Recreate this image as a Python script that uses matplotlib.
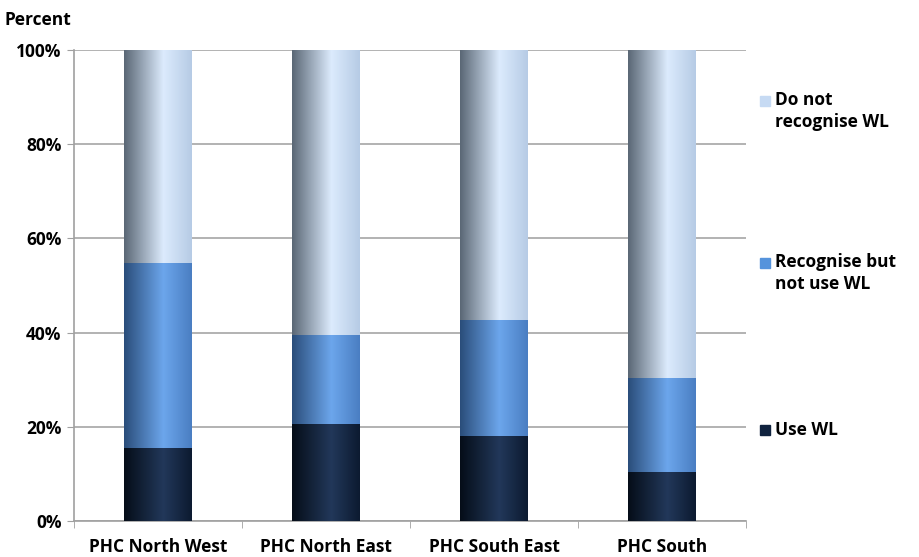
import numpy as np
import matplotlib
matplotlib.use("Agg")
import matplotlib.pyplot as plt
from matplotlib.colors import LinearSegmentedColormap

categories = ["PHC North West", "PHC North East", "PHC South East", "PHC South"]
use_wl = [15.5, 20.5, 18.0, 10.4]
recognise_not_use = [39.3, 19.0, 24.7, 20.0]
do_not_recognise = [45.2, 60.5, 57.3, 69.6]
series_names = ["Use WL", "Recognise but\nnot use WL", "Do not\nrecognise WL"]
legend_colors = ["#10233f", "#5593dc", "#c6daf3"]

# gradient stops: left edge, middle highlight, right edge
grad_colors = [
    ["#050d18", "#22385a", "#0c1a30"],
    ["#2a4d7a", "#6ca6ec", "#4a7ec2"],
    ["#5a6775", "#dcebfd", "#b6cbe5"],
]

plt.rcParams["font.family"] = ["Open Sans", "DejaVu Sans"]
plt.rcParams["font.weight"] = "bold"
fs = 12.5

fig = plt.figure(figsize=(9.19, 5.57), dpi=100)
ax = fig.add_axes([74 / 919, 1 - 521 / 557, (746 - 74) / 919, (521 - 50) / 557])

x = np.arange(len(categories))
width = 0.4
bottoms = np.zeros(len(categories))
grad = np.linspace(0, 1, 256).reshape(1, -1)
for vals, stops in zip([use_wl, recognise_not_use, do_not_recognise], grad_colors):
    cmap = LinearSegmentedColormap.from_list("g", [(0, stops[0]), (0.58, stops[1]), (1, stops[2])])
    bars = ax.bar(x, vals, width, bottom=bottoms, color="none", edgecolor="none", zorder=3)
    for b in bars:
        x0, y0 = b.get_x(), b.get_y()
        ax.imshow(grad, cmap=cmap, aspect="auto", zorder=3,
                  extent=[x0, x0 + b.get_width(), y0, y0 + b.get_height()])
    bottoms += np.array(vals)

ax.set_xlim(-0.5, len(categories) - 0.5)
ax.set_ylim(0, 100)
ax.set_yticks(np.arange(0, 101, 20))
ax.set_yticklabels([f"{v}%" for v in range(0, 101, 20)], fontsize=fs, fontweight="bold")
ax.set_xticks(x)
ax.set_xticklabels(categories, fontsize=fs, fontweight="bold")
ax.set_xticks(np.arange(-0.5, len(categories)), minor=True)
ax.tick_params(axis="x", which="major", length=0, pad=12)
ax.tick_params(axis="x", which="minor", length=5, color="#a0a0a0", direction="out")
ax.tick_params(axis="y", length=5, color="#a0a0a0", direction="out", pad=4)
ax.yaxis.grid(True, color="#a6a6a6", linewidth=1.2, zorder=0)
for s in ["top", "right"]:
    ax.spines[s].set_visible(False)
for s in ["left", "bottom"]:
    ax.spines[s].set_color("#a0a0a0")
    ax.spines[s].set_linewidth(1.2)

fig.text(5 / 919, 1 - 20 / 557, "Percent", fontsize=fs, fontweight="bold", va="center")

legend_y = [430, 273, 111]
for name, col, yy in zip(series_names, legend_colors, legend_y):
    nlines = name.count("\n") + 1
    sq_y = yy - (nlines - 1) * 10
    fig.patches.append(plt.Rectangle((760 / 919, 1 - (sq_y + 5) / 557), 10 / 919, 10 / 557,
                                     transform=fig.transFigure, color=col))
    fig.text(775 / 919, 1 - yy / 557, name, fontsize=fs, fontweight="bold",
             va="center", ha="left", linespacing=1.3)

fig.savefig("out.png", dpi=100)
